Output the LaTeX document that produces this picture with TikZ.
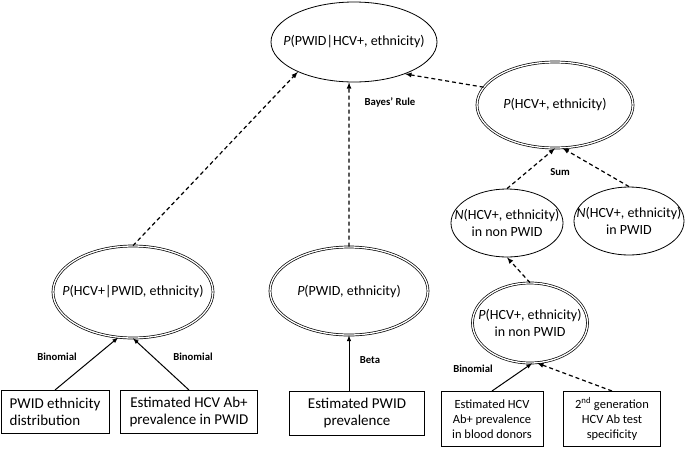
\documentclass[tikz,border=0pt]{standalone}
\usepackage{fontspec}
\setmainfont{Carlito}
\usetikzlibrary{shapes,positioning}

\begin{document}
\begin{tikzpicture}[x=1pt, y=-1pt,
    probNode/.style={ellipse, draw, line width=0.8pt, inner sep=0pt},
    dprobNode/.style={ellipse, draw, double, double distance=1.3pt, line width=0.7pt, inner sep=0pt},
    probText/.style={align=center, font=\fontsize{14}{16.5}\selectfont},
    dataNode/.style={rectangle, draw, line width=1pt, align=center, inner sep=2pt},
    ruleLabel/.style={font=\fontsize{10.7}{12}\selectfont\bfseries},
    arrow/.style={->, >=latex, line width=1pt},
    dashArrow/.style={->, >=latex, line width=1.2pt, dash pattern=on 4pt off 3pt}]

  \useasboundingbox (0,0) rectangle (685,448);

  % Ellipses
  \node[probNode, minimum width=166, minimum height=80] (post) at (354,42) {};
  \node[probText] (postT) at (post) {\textit{P}(PWID|HCV+, ethnicity)};

  \node[dprobNode, minimum width=156, minimum height=86] (hcvall) at (555,105) {};
  \node[probText] (hcvallT) at (hcvall) {\textit{P}(HCV+, ethnicity)};

  \node[probNode, minimum width=112, minimum height=68] (nnon) at (507,223) {};
  \node[probText] (nnonT) at (nnon) {\textit{N}(HCV+, ethnicity)\\in non PWID};

  \node[probNode, minimum width=110, minimum height=68] (npwid) at (629,221) {};
  \node[probText] (npwidT) at (npwid) {\textit{N}(HCV+, ethnicity)\\in PWID};

  \node[dprobNode, minimum width=160, minimum height=92] (hcvpwid) at (133,292) {};
  \node[probText] (hcvpwidT) at (hcvpwid) {\textit{P}(HCV+|PWID, ethnicity)};

  \node[dprobNode, minimum width=158, minimum height=88] (pwid) at (349,291) {};
  \node[probText] (pwidT) at (pwid) {\textit{P}(PWID, ethnicity)};

  \node[dprobNode, minimum width=115, minimum height=80] (hcvnon) at (530,323) {};
  \node[probText] (hcvnonT) at (hcvnon) {\textit{P}(HCV+, ethnicity)\\in non PWID};

  % Data boxes
  \node[dataNode, minimum width=108, minimum height=43, font=\fontsize{15}{17.5}\selectfont, align=left] (distbox) at (55,412) {PWID ethnicity\\distribution};
  \node[dataNode, minimum width=137, minimum height=43, font=\fontsize{15}{17.5}\selectfont] (abbox) at (189,412) {Estimated HCV Ab+\\prevalence in PWID};
  \node[dataNode, minimum width=135, minimum height=44, font=\fontsize{15}{17.5}\selectfont] (prevbox) at (357,413) {Estimated PWID\\prevalence};
  \node[dataNode, minimum width=102, minimum height=55, font=\fontsize{12.5}{15}\selectfont] (donorbox) at (492,419) {Estimated HCV\\Ab+ prevalence\\in blood donors};
  \node[dataNode, minimum width=97, minimum height=55, font=\fontsize{12.5}{15}\selectfont] (specbox) at (612,419) {2\textsuperscript{nd} generation\\HCV Ab test\\specificity};

  % Arrows
  \draw[arrow] (distbox.north) -- (hcvpwid.252);
  \draw[arrow] (abbox.north) -- (hcvpwid.south);
  \draw[arrow] (prevbox.north -| pwid.south) -- (pwid.south);
  \draw[arrow] (donorbox.north) -- (hcvnon.273);
  \draw[dashArrow] (specbox.north) -- (hcvnon.280);
  \draw[dashArrow] (hcvnon.north) -- (nnon.south);
  \draw[dashArrow] (nnon.north) -- (hcvall.south);
  \draw[dashArrow] (npwid.north) -- (hcvall.280);
  \draw[dashArrow] (hcvall.166) -- (post.328);
  \draw[dashArrow] (pwid.north) -- (post.263);
  \draw[dashArrow] (hcvpwid.north) -- (post.208);

  % Labels
  \node[ruleLabel] (bayes) at (390,102) {Bayes' Rule};
  \node[ruleLabel] (sum) at (560,172) {Sum};
  \node[ruleLabel] (binA) at (57,357) {Binomial};
  \node[ruleLabel] (binB) at (193,357) {Binomial};
  \node[ruleLabel] (binC) at (473,369) {Binomial};
  \node[ruleLabel] (beta) at (370,360) {Beta};

\end{tikzpicture}
\end{document}
